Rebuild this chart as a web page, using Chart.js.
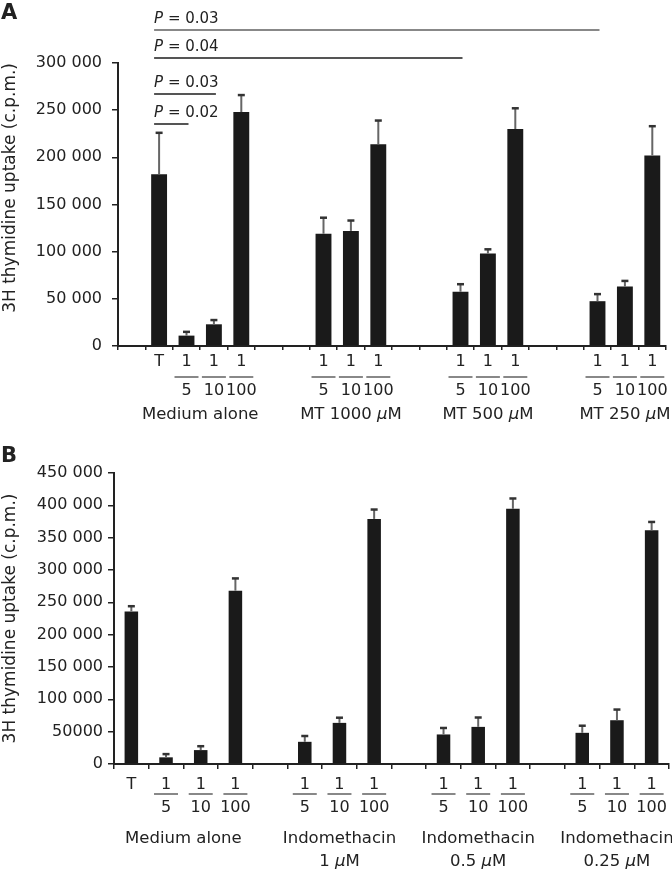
<!DOCTYPE html>
<html>
<head>
<meta charset="utf-8">
<script src="https://cdn.jsdelivr.net/npm/chart.js@4"></script>
<style>
  html, body { margin: 0; padding: 0; background: #fff; }
  canvas { display: block; }
</style>
</head>
<body>
<canvas id="chartA" width="672" height="430"></canvas>
<canvas id="chartB" width="672" height="445"></canvas>
<script>
// ---- panel A data ----
const labelsA = ['', 'T', ['1', '5'], ['1', '10'], ['1', '100'], '', '',
  ['1', '5'], ['1', '10'], ['1', '100'], '', '',
  ['1', '5'], ['1', '10'], ['1', '100'], '', '',
  ['1', '5'], ['1', '10'], ['1', '100']];
const valuesA = [null, 182000, 11000, 23000, 248000, null, null,
  119000, 122000, 214000, null, null,
  57500, 98000, 230000, null, null,
  47500, 63000, 202000];
const errorsA = [null, 44000, 4000, 4500, 18000, null, null,
  17000, 11000, 25000, null, null,
  8000, 4500, 22000, null, null,
  7500, 6000, 31000];
const groupsA = [
  {from: 1, to: 4, text: ['Medium alone']},
  {from: 7, to: 9, text: ['MT 1000 μM']},
  {from: 12, to: 14, text: ['MT 500 μM']},
  {from: 17, to: 19, text: ['MT 250 μM']}
];
const pvalsA = [
  {from: 1, to: 17, p: '0.03'},
  {from: 1, to: 12, p: '0.04'},
  {from: 1, to: 3, p: '0.03'},
  {from: 1, to: 2, p: '0.02'}
];

// ---- panel B data ----
const labelsB = ['T', ['1', '5'], ['1', '10'], ['1', '100'], '',
  ['1', '5'], ['1', '10'], ['1', '100'], '',
  ['1', '5'], ['1', '10'], ['1', '100'], '',
  ['1', '5'], ['1', '10'], ['1', '100']];
const valuesB = [236000, 10300, 21500, 268000, null,
  34300, 63600, 379000, null,
  45700, 57400, 394600, null,
  48200, 67700, 361300];
const errorsB = [8000, 5000, 6000, 19000, null,
  9000, 8000, 14500, null,
  10000, 14500, 16000, null,
  11000, 16500, 13000];
const groupsB = [
  {from: 0, to: 3, text: ['Medium alone']},
  {from: 5, to: 7, text: ['Indomethacin', '1 μM']},
  {from: 9, to: 11, text: ['Indomethacin', '0.5 μM']},
  {from: 13, to: 15, text: ['Indomethacin', '0.25 μM']}
];

const FONT = "'DejaVu Sans', sans-serif";
const INK = '#222';
Chart.defaults.font.family = FONT;
Chart.defaults.color = INK;

function spaced(v) {
  const s = String(v);
  return s.length > 3 ? s.slice(0, -3) + ' ' + s.slice(-3) : s;
}

// text with an italic mu
function drawRich(ctx, text, cx, y, size) {
  const parts = text.split(/(μ)/).filter(s => s.length);
  const fonts = parts.map(p => (p === 'μ' ? 'italic ' : '') + size + 'px ' + FONT);
  const widths = parts.map((p, i) => { ctx.font = fonts[i]; return ctx.measureText(p).width; });
  let x = cx - widths.reduce((a, b) => a + b, 0) / 2;
  ctx.textAlign = 'left';
  ctx.textBaseline = 'middle';
  parts.forEach((p, i) => { ctx.font = fonts[i]; ctx.fillText(p, x, y); x += widths[i]; });
}

const errorBars = {
  id: 'errorBars',
  afterDatasetsDraw(chart, args, opts) {
    const {ctx} = chart;
    const y = chart.scales.y;
    const meta = chart.getDatasetMeta(0);
    ctx.save();
    opts.values.forEach((v, i) => {
      if (v == null) return;
      const bar = meta.data[i];
      const top = y.getPixelForValue(v + opts.errors[i]);
      ctx.strokeStyle = '#666';
      ctx.lineWidth = 2;
      ctx.beginPath();
      ctx.moveTo(bar.x, bar.y);
      ctx.lineTo(bar.x, top);
      ctx.stroke();
      ctx.strokeStyle = '#333';
      ctx.lineWidth = 2.5;
      ctx.beginPath();
      ctx.moveTo(bar.x - 3.5, top);
      ctx.lineTo(bar.x + 3.5, top);
      ctx.stroke();
    });
    ctx.restore();
  }
};

const xDecor = {
  id: 'xDecor',
  afterDraw(chart, args, opts) {
    const {ctx} = chart;
    const x = chart.scales.x;
    ctx.save();
    ctx.fillStyle = INK;
    // fraction bars
    ctx.strokeStyle = '#888';
    ctx.lineWidth = 2;
    chart.data.labels.forEach((lab, i) => {
      if (!Array.isArray(lab)) return;
      const cx = x.getPixelForValue(i);
      ctx.beginPath();
      ctx.moveTo(cx - 12, opts.fracY);
      ctx.lineTo(cx + 12, opts.fracY);
      ctx.stroke();
    });
    // group captions
    opts.groups.forEach(g => {
      const cx = (x.getPixelForValue(g.from) + x.getPixelForValue(g.to)) / 2;
      g.text.forEach((t, k) => drawRich(ctx, t, cx, opts.groupY + k * 23, 16.5));
    });
    // panel letter
    ctx.font = 'bold 21px ' + FONT;
    ctx.textAlign = 'left';
    ctx.textBaseline = 'alphabetic';
    ctx.fillText(opts.letter, 1, opts.letterY);
    ctx.restore();
  }
};

const pLines = {
  id: 'pLines',
  afterDraw(chart, args, opts) {
    if (!opts.list) return;
    const {ctx} = chart;
    const x = chart.scales.x;
    const rows = [30, 58, 94, 124];
    ctx.save();
    opts.list.forEach((c, k) => {
      const x0 = x.getPixelForValue(c.from) - 5;
      const x1 = x.getPixelForValue(c.to) + 2;
      ctx.strokeStyle = k === 0 ? '#888' : '#555';
      ctx.lineWidth = 2;
      ctx.beginPath();
      ctx.moveTo(x0, rows[k]);
      ctx.lineTo(x1, rows[k]);
      ctx.stroke();
      ctx.fillStyle = INK;
      ctx.textAlign = 'left';
      ctx.textBaseline = 'alphabetic';
      ctx.font = 'italic 15px ' + FONT;
      ctx.fillText('P', x0, rows[k] - 7);
      const w = ctx.measureText('P').width;
      ctx.font = '15px ' + FONT;
      ctx.fillText(' = ' + c.p, x0 + w, rows[k] - 7);
    });
    ctx.restore();
  }
};

function makeChart(id, cfg) {
  return new Chart(document.getElementById(id), {
    type: 'bar',
    data: {
      labels: cfg.labels,
      datasets: [{
        data: cfg.values,
        backgroundColor: '#1a1a1a',
        borderWidth: 0,
        barPercentage: cfg.barPct,
        categoryPercentage: 1
      }]
    },
    options: {
      responsive: false,
      animation: false,
      layout: {padding: {top: cfg.padTop, right: cfg.padRight, left: 0, bottom: 0}},
      plugins: {
        legend: {display: false},
        tooltip: {enabled: false},
        errorBars: {values: cfg.values, errors: cfg.errors},
        xDecor: {groups: cfg.groups, fracY: cfg.fracY, groupY: cfg.groupY, letter: cfg.letter, letterY: cfg.letterY},
        pLines: {list: cfg.pvals}
      },
      scales: {
        x: {
          offset: true,
          grid: {display: true, offset: true, drawOnChartArea: false, drawTicks: true, tickLength: cfg.xTick, color: INK, lineWidth: 1.5},
          border: {display: true, color: INK, width: 2},
          ticks: {autoSkip: false, maxRotation: 0, minRotation: 0, padding: cfg.xPad, color: INK,
                  font: {size: 16, lineHeight: cfg.xLine}},
          afterFit(s) { s.height = cfg.xHeight; }
        },
        y: {
          min: 0,
          max: cfg.max,
          grid: {drawOnChartArea: false, drawTicks: true, tickLength: 6, color: INK, lineWidth: 1.5},
          border: {display: true, color: INK, width: 2},
          ticks: {stepSize: 50000, padding: cfg.yPad, color: INK, font: {size: 16}, callback: cfg.fmt},
          title: {display: true, text: '3H thymidine uptake (c.p.m.)', align: cfg.titleAlign,
                  color: INK, font: {size: 17}, padding: {top: 0, bottom: 0}},
          afterFit(s) { s.width = cfg.yWidth; }
        }
      }
    },
    plugins: [errorBars, xDecor, pLines]
  });
}

makeChart('chartA', {
  labels: labelsA, values: valuesA, errors: errorsA, groups: groupsA, pvals: pvalsA,
  barPct: 0.58, max: 300000, padTop: 63, padRight: 6, yWidth: 118, xHeight: 84,
  xTick: 4, xPad: -2, xLine: 1.78, yPad: 10, fracY: 377, groupY: 415,
  letter: 'A', letterY: 19, titleAlign: 'end',
  fmt: v => v >= 10000 ? spaced(v) : String(v)
});

makeChart('chartB', {
  labels: labelsB, values: valuesB, errors: errorsB, groups: groupsB, pvals: null,
  barPct: 0.39, max: 450000, padTop: 43, padRight: 3, yWidth: 114, xHeight: 111,
  xTick: 5, xPad: 5, xLine: 1.4, yPad: 5, fracY: 364, groupY: 409,
  letter: 'B', letterY: 32, titleAlign: 'center',
  fmt: v => v >= 100000 ? spaced(v) : String(v)
});
</script>
</body>
</html>
